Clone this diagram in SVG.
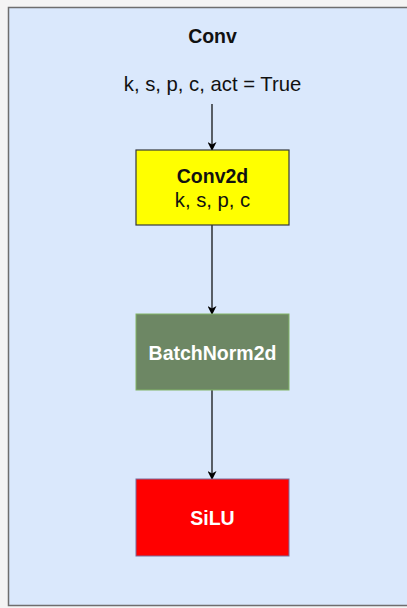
<svg xmlns="http://www.w3.org/2000/svg" width="407" height="608" viewBox="0 0 407 608">
  <style>
    text { font-family: "Liberation Sans", Arial, sans-serif; text-anchor: middle; font-size: 20.3px; fill: #111; }
    .b { font-weight: bold; font-size: 19.5px; }
    .w { fill: #ffffff; }
    .edge { stroke: #000; stroke-width: 1.2; fill: none; marker-end: url(#arrow); }
  </style>
  <defs>
    <marker id="arrow" viewBox="0 0 10 10" refX="9" refY="5" markerWidth="10" markerHeight="9" orient="auto" markerUnits="userSpaceOnUse">
      <path d="M0,0 L10,5 L0,10 L3,5 Z" fill="#000"/>
    </marker>
  </defs>
  <rect width="407" height="608" fill="#f4f4f4"/>
  <g id="frame">
    <rect x="8.5" y="7.5" width="410" height="598" fill="#dae8fc" stroke="#6e6e6e" stroke-width="1.5"/>
    <text class="b" x="212.5" y="43">Conv</text>
    <text x="212.5" y="91">k, s, p, c, act = True</text>
  </g>
  <g id="connectors">
    <path class="edge" d="M212,104 V150"/>
    <path class="edge" d="M212,225 V314"/>
    <path class="edge" d="M212,390 V479"/>
  </g>
  <g id="conv2d">
    <rect x="136" y="150" width="153" height="75" fill="#ffff00" stroke="#36393d" stroke-width="1.2"/>
    <text class="b" x="212.5" y="183">Conv2d</text>
    <text x="212.5" y="206.5">k, s, p, c</text>
  </g>
  <g id="batchnorm2d">
    <rect x="136" y="314" width="153" height="76" fill="#6d8764" stroke="#82b366" stroke-width="1"/>
    <text class="b w" x="212.5" y="360">BatchNorm2d</text>
  </g>
  <g id="silu">
    <rect x="136" y="479" width="153" height="77" fill="#ff0000" stroke="#7a6a9a" stroke-width="1"/>
    <text class="b w" x="212.5" y="525">SiLU</text>
  </g>
</svg>
